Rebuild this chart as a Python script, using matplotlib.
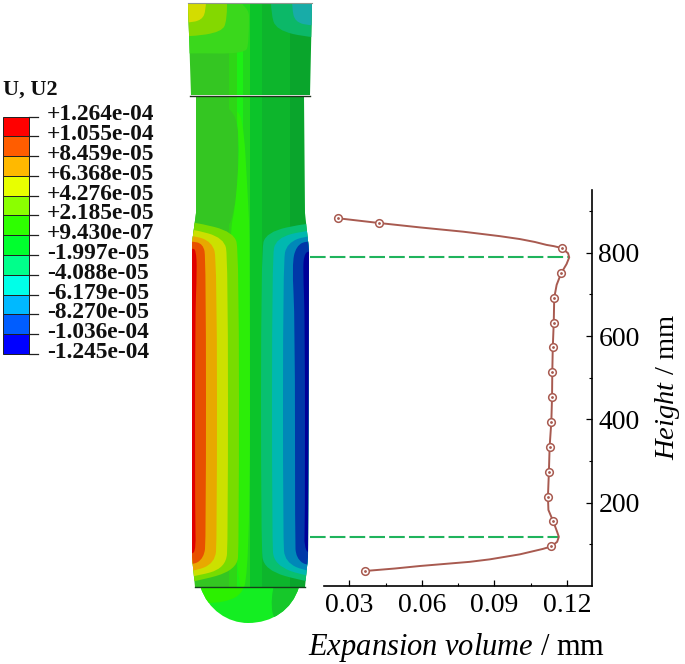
import matplotlib
matplotlib.use("Agg")
import matplotlib.pyplot as plt
from matplotlib.patches import PathPatch, Rectangle
from matplotlib.path import Path
from matplotlib.ticker import MultipleLocator

plt.rcParams['font.family'] = ['Liberation Serif', 'DejaVu Serif']
plt.rcParams['mathtext.fontset'] = 'custom'
plt.rcParams['mathtext.rm'] = 'Liberation Serif'
plt.rcParams['mathtext.it'] = 'Liberation Serif:italic'

# ---- data ----
legend_title = "U, U2"
legend_labels = ["+1.264e-04", "+1.055e-04", "+8.459e-05", "+6.368e-05", "+4.276e-05",
                 "+2.185e-05", "+9.430e-07", "-1.997e-05", "-4.088e-05", "-6.179e-05",
                 "-8.270e-05", "-1.036e-04", "-1.245e-04"]
legend_colors = ["#ff0000", "#ff5d00", "#ffb900", "#e8ff00", "#8bff00", "#2eff00",
                 "#00ff2e", "#00ff8b", "#00ffe8", "#00b9ff", "#005dff", "#0000ff"]

point_volume = [0.0253, 0.0424, 0.1178, 0.1176, 0.1147, 0.1145, 0.1141, 0.1139,
                0.1138, 0.1135, 0.1128, 0.1125, 0.1121, 0.1143, 0.1135, 0.0365]
point_height = [883, 871.5, 811.5, 751.5, 692, 632, 573, 513, 454, 394, 334.5, 274.4,
                214, 155, 95, 36]
curve_volume = [0.0253, 0.0424, 0.0592, 0.0771, 0.0922, 0.1005, 0.1067, 0.1115, 0.1145, 0.1178,
                0.1204, 0.1209, 0.1198, 0.1176, 0.1157, 0.1147, 0.1145, 0.1141, 0.1139, 0.1138,
                0.1135, 0.1128, 0.1125, 0.1121, 0.1123, 0.1143, 0.1159, 0.1166, 0.1159, 0.1135,
                0.110, 0.1005, 0.0881, 0.0798, 0.0695, 0.0592, 0.0489, 0.0365]
curve_height = [883, 871.5, 861, 850.7, 840, 833, 826, 819, 816, 811.5,
                799, 789, 773, 751.5, 723, 692, 632, 573, 513, 454,
                394, 334.5, 274.4, 214, 182.5, 155, 130, 118, 106, 95,
                89, 76, 64, 58, 53, 48, 42, 36]
dashed_heights = [789, 118]
dashed_ends = [0.1209, 0.1166]
x_ticks = [0.03, 0.06, 0.09, 0.12]
y_ticks = [200, 400, 600, 800]

W, H = 685, 664
fig = plt.figure(figsize=(W / 100, H / 100), dpi=100, facecolor='white')

# ---- contour picture, drawn in pixel coordinates ----
pic = fig.add_axes([0, 0, 1, 1])
pic.set_xlim(0, W)
pic.set_ylim(H, 0)
pic.axis('off')


def smooth(points):
    """Closed-off outline rounded through its interior points."""
    verts = [points[0]]
    codes = [Path.MOVETO]
    for i in range(1, len(points) - 1):
        a, b = points[i], points[i + 1]
        end = b if i == len(points) - 2 else ((a[0] + b[0]) / 2, (a[1] + b[1]) / 2)
        verts += [a, end]
        codes += [Path.CURVE3, Path.CURVE3]
    verts += [points[0]]
    codes += [Path.LINETO]
    return Path(verts, codes)


def blob(points, color, z, clip):
    p = PathPatch(smooth(points), fc=color, ec='none', zorder=z)
    pic.add_patch(p)
    p.set_clip_path(clip)
    return p


outline = [(196, 96), (196, 213), (192, 243), (192, 557), (195, 587), (305, 587),
           (308, 557), (309, 250), (305, 213), (304, 96), (196, 96)]
body = PathPatch(Path(outline), fc='none', ec='none')
pic.add_patch(body)
cap_outline = [(188, 3), (191, 95), (310, 95), (312, 3), (188, 3)]
cap = PathPatch(Path(cap_outline), fc='none', ec='none')
pic.add_patch(cap)
dome_path = Path([(200.5, 587), (208, 610), (228, 623), (248, 623), (272, 623), (292, 610), (299, 587), (200.5, 587)],
                 [Path.MOVETO, Path.CURVE4, Path.CURVE4, Path.CURVE4, Path.CURVE4, Path.CURVE4, Path.CURVE4, Path.CLOSEPOLY])
dome = PathPatch(dome_path, fc='#14ee22', ec='none', zorder=1)
pic.add_patch(dome)
blob([(190, 580), (190, 603), (225, 603), (245, 592), (245, 580)], '#2cf000', 1.5, dome)
blob([(275, 580), (270, 600), (275, 625), (310, 625), (310, 580)], '#16c82a', 1.5, dome)

stripes = [(180, 229, '#34c622'), (229, 237, '#2ed616'), (237, 243, '#1cf014'),
           (243, 250, '#22d81c'), (250, 262, '#0cc42a'), (262, 290, '#0db52c'),
           (290, 320, '#0aa52c')]
for x0, x1, c in stripes:
    for clip in (body, cap):
        r = Rectangle((x0, 0), x1 - x0, 600, fc=c, ec='none', zorder=2)
        pic.add_patch(r)
        r.set_clip_path(clip)

blob([(180, 100), (223, 103), (237, 117), (239, 147), (237, 200), (225, 240), (180, 240)], '#34c622', 2.2, body)
blob([(237, 112), (243, 112), (248, 200), (250, 240), (250, 590), (235, 590), (228, 240), (237, 200), (239, 150)],
     '#2cee08', 2.3, body)

left_bands = [
    ([(150, 215), (195, 222), (234, 232), (239, 252), (239, 545), (237, 570), (195, 582), (150, 589)], '#78dc00'),
    ([(150, 222), (193, 229), (224, 238), (228, 258), (228, 540), (226, 568), (194, 577), (150, 583)], '#cce000'),
    ([(150, 230), (193, 235), (212, 242), (217, 260), (217, 540), (215, 563), (193, 572), (150, 578)], '#e8a800'),
    ([(150, 238), (192, 241), (203, 244), (206, 258), (206, 540), (204, 558), (192, 566), (150, 570)], '#e85000'),
    ([(150, 247), (192, 248), (196, 250), (197, 270), (195, 320), (195, 520), (196, 548), (192, 556), (150, 560)], '#e00000'),
]
right_bands = [
    ([(350, 218), (307, 223), (266, 232), (261, 252), (261, 545), (264, 570), (306, 582), (350, 589)], '#08c070'),
    ([(350, 226), (307, 230), (276, 238), (272, 258), (272, 540), (274, 565), (307, 577), (350, 583)], '#00b8b0'),
    ([(350, 232), (308, 235), (287, 243), (283, 262), (283, 540), (285, 562), (307, 572), (350, 578)], '#0088b8'),
    ([(350, 238), (308, 240), (296, 246), (292, 265), (295, 320), (295, 540), (296, 558), (308, 567), (350, 572)], '#0038a8'),
    ([(350, 246), (309, 250), (304, 255), (303, 270), (305, 320), (305, 530), (304, 545), (309, 556), (350, 560)], '#000098'),
]
for i, (pts, c) in enumerate(left_bands):
    blob(pts, c, 3 + i, body)
for i, (pts, c) in enumerate(right_bands):
    blob(pts, c, 3 + i, body)

cap_left = [
    ([(150, 54), (190, 53), (245, 54), (249, 43), (249, -10), (150, -10)], '#3ad81c'),
    ([(150, 38), (189, 37), (222, 32), (227, 20), (227, -10), (150, -10)], '#84d800'),
    ([(150, 25), (188, 23), (202, 20), (206, 10), (206, -10), (150, -10)], '#d4dc00'),
]
cap_right = [
    ([(350, 40), (310, 38), (276, 30), (271, 13), (271, -10), (350, -10)], '#0cb868'),
    ([(350, 28), (311, 26), (295, 22), (292, 8), (292, -10), (350, -10)], '#18aca8'),
]
for i, (pts, c) in enumerate(cap_left):
    blob(pts, c, 3 + i, cap)
for i, (pts, c) in enumerate(cap_right):
    blob(pts, c, 3 + i, cap)

pic.plot([190.5, 310], [95.5, 95.5], color='#20301c', lw=1.0, zorder=9)
pic.plot([195, 305], [587, 587], color='#14401c', lw=1.0, zorder=9)
pic.plot([188, 312], [3, 3], color='#909890', lw=0.8, zorder=9)

# ---- colour legend ----
bar_left, bar_right, bar_top, bar_bottom = 3.3, 29.5, 116.5, 354
step = (bar_bottom - bar_top) / len(legend_colors)
for i, c in enumerate(legend_colors):
    pic.add_patch(Rectangle((bar_left, bar_top + i * step), bar_right - bar_left, step,
                            fc=c, ec='#202020', lw=0.7, zorder=3))
for i, lab in enumerate(legend_labels):
    y = bar_top + i * step
    pic.plot([bar_right, 38], [y, y], color='#202020', lw=0.9, zorder=3)
    pic.text(47, y - 1.5, lab, fontsize=16.8, fontweight='bold', va='center', ha='left', color='#101010')
pic.text(3, 90, legend_title, fontsize=16, fontweight='bold', va='center', ha='left', color='#101010')

# ---- line plot ----
L, R, T, B = 324.3, 591.5, 190, 585.7
ax = fig.add_axes([L / W, 1 - B / H, (R - L) / W, (B - T) / H], facecolor='none')
ax.set_xlim(0.0197, 0.1301)
ax.set_ylim(0.7, 950.8)
ax.spines['left'].set_visible(False)
ax.spines['top'].set_visible(False)
ax.spines['right'].set_linewidth(1.2)
ax.spines['bottom'].set_linewidth(1.2)
ax.yaxis.tick_right()
ax.yaxis.set_label_position('right')
ax.set_xticks(x_ticks)
ax.set_xticklabels([f'{v:.2f}' for v in x_ticks])
ax.set_yticks(y_ticks)
ax.xaxis.set_minor_locator(MultipleLocator(0.015))
ax.yaxis.set_minor_locator(MultipleLocator(100))
ax.tick_params(axis='both', which='major', direction='in', length=4, width=0.9, labelsize=20)
ax.tick_params(axis='both', which='minor', direction='in', length=2.5, width=0.8)
ax.tick_params(axis='x', which='major', pad=5)
ax.tick_params(axis='y', which='major', pad=5)

for h, e in zip(dashed_heights, dashed_ends):
    ax.plot([0.0136, e], [h, h], color='#1fb35c', lw=1.5, dashes=(7.5, 2), clip_on=False, zorder=2)
ax.plot(curve_volume, curve_height, color='#a85a50', lw=1.4, zorder=3)
ax.plot(point_volume, point_height, ls='none', marker='o', ms=5.5, mfc='white', mec='#a85a50', mew=1.1, zorder=4)
ax.plot(point_volume, point_height, ls='none', marker='o', ms=1.0, color='#a85a50', zorder=5)

fig.text(457 / W, 1 - 647 / H, r'$\mathit{Expansion\ volume}$ / mm', fontsize=22, ha='center', va='center')
fig.text(668 / W, 1 - 387 / H, r'$\mathit{Height}$ / mm', fontsize=20.5, rotation=90, ha='center', va='center')

fig.savefig('out.png', dpi=100, facecolor='white')
